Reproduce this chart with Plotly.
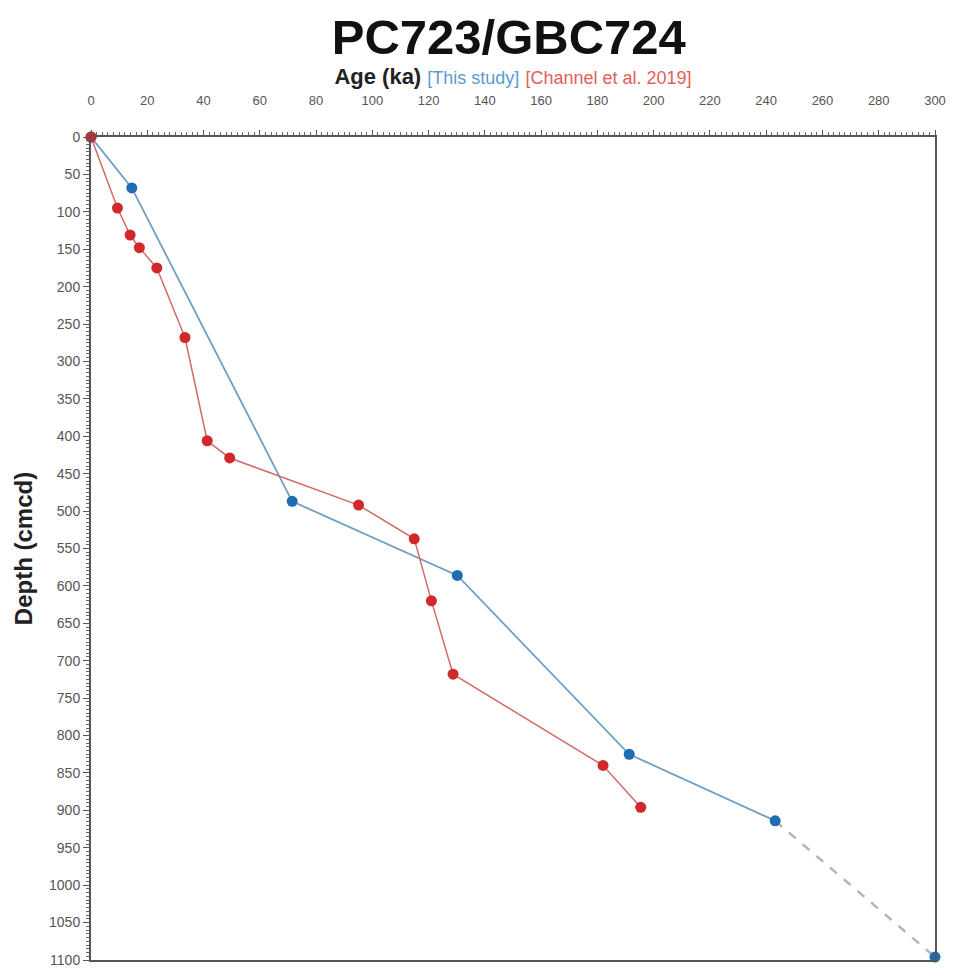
import plotly.graph_objects as go

# Data
this_study_age = [0, 14.5, 71.5, 130.2, 191.3, 243.2]
this_study_depth = [0, 68, 487, 586, 825, 914]

extrap_age = [243.2, 300]
extrap_depth = [914, 1096]

channel_age = [0, 9.4, 13.9, 17.2, 23.4, 33.4, 41.3, 49.3, 95.1, 114.9, 121.0, 128.7, 182.0, 195.4]
channel_depth = [0, 95, 131, 148, 175, 268, 406, 429, 492, 537, 620, 718, 840, 896]

x_ticks = list(range(0, 301, 20))
y_ticks = list(range(0, 1101, 50))

BLUE_LINE = "#6f9fc4"
BLUE_MK = "#1f6cb3"
RED_LINE = "#d46a6a"
RED_MK = "#d1282c"

fig = go.Figure()

fig.add_trace(go.Scatter(
    x=extrap_age, y=extrap_depth, mode="lines",
    line=dict(color="#b5b5b5", width=2.5, dash="dash"),
    showlegend=False, cliponaxis=False, hoverinfo="skip"))

fig.add_trace(go.Scatter(
    x=extrap_age[1:], y=extrap_depth[1:], mode="markers",
    marker=dict(color=BLUE_MK, size=11),
    showlegend=False, cliponaxis=False))

fig.add_trace(go.Scatter(
    x=this_study_age, y=this_study_depth, mode="lines+markers",
    line=dict(color=BLUE_LINE, width=1.8),
    marker=dict(color=BLUE_MK, size=11),
    name="This study", showlegend=False, cliponaxis=False))

fig.add_trace(go.Scatter(
    x=channel_age, y=channel_depth, mode="lines+markers",
    line=dict(color=RED_LINE, width=1.5),
    marker=dict(color=RED_MK, size=11),
    name="Channel et al. 2019", showlegend=False, cliponaxis=False))

fig.update_layout(
    width=956, height=978,
    margin=dict(l=91, r=18, t=137, b=10),
    paper_bgcolor="white", plot_bgcolor="white",
    font=dict(family="Arial, Liberation Sans, sans-serif", color="#444"),
    title=dict(
        text="<b>PC723/GBC724</b>",
        font=dict(size=49, color="#111"),
        x=0.495, xanchor="center", xref="paper",
        y=1 - 37 / 978, yanchor="middle", yref="container"),
)

fig.update_xaxes(
    side="top", range=[0, 300], tickvals=x_ticks,
    showgrid=False, zeroline=False,
    showline=True, linecolor="#555", linewidth=2, mirror=True,
    ticks="outside", ticklen=5, tickwidth=1.2, tickcolor="#555",
    minor=dict(dtick=2, tick0=0, ticks="outside", ticklen=3, tickcolor="#666", showgrid=False),
    tickfont=dict(size=13, color="#555"),
    ticklabelstandoff=20,
    title=dict(
        text="<b>Age (ka)</b> <span style='color:#5b9bd0;font-size:18px'>[This study]</span> "
             "<span style='color:#e0605a;font-size:18px'>[Channel et al. 2019]</span>",
        font=dict(size=22, color="#222"), standoff=2),
)

fig.update_yaxes(
    range=[1100, 0], tickvals=y_ticks,
    showgrid=False, zeroline=False,
    showline=True, linecolor="#555", linewidth=2, mirror=True,
    ticks="outside", ticklen=6, tickwidth=1.2, tickcolor="#555",
    minor=dict(dtick=5, tick0=0, ticks="outside", ticklen=3, tickcolor="#666", showgrid=False),
    tickfont=dict(size=14, color="#555"),
    title=dict(text="<b>Depth (cmcd)</b>", font=dict(size=24, color="#222"), standoff=10),
)

fig.write_html("out.html")
